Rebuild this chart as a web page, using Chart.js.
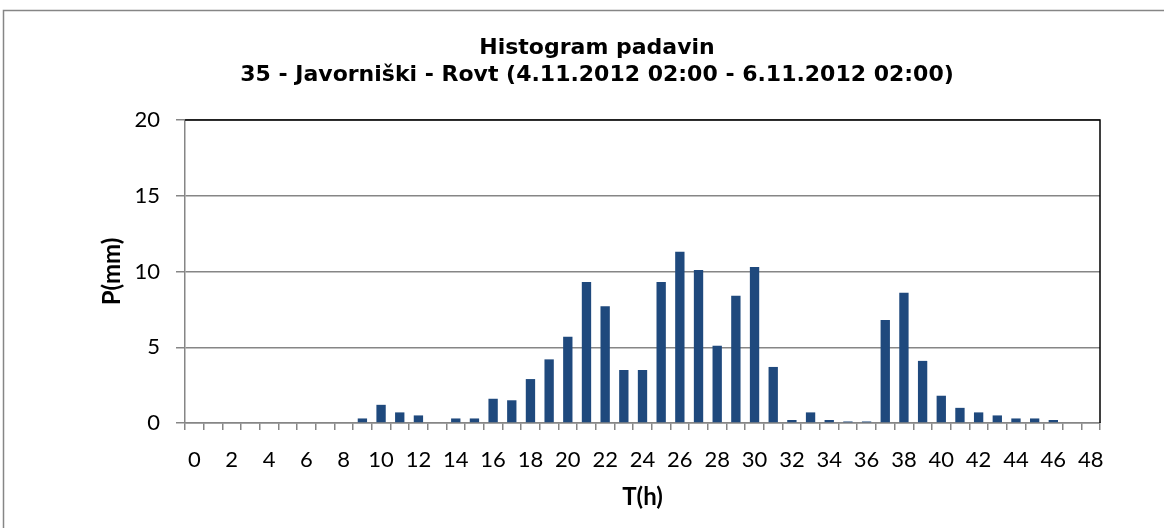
<!DOCTYPE html>
<html lang="sl">
<head>
  <meta charset="UTF-8" />
  <title>Histogram padavin</title>
  <script src="https://cdn.jsdelivr.net/npm/chart.js"></script>
  <style>
    html, body { margin: 0; padding: 0; background: #fff; }
    .wrap { position: relative; width: 1164px; height: 528px; }
  </style>
</head>
<body>
  <div class="wrap">
    <canvas id="rainChart" width="1164" height="528"></canvas>
  </div>
  <script>
    // hours since 4.11.2012 02:00
    const hours = ['0','1','2','3','4','5','6','7','8','9','10','11','12','13','14','15','16','17','18','19','20','21','22','23','24',
                   '25','26','27','28','29','30','31','32','33','34','35','36','37','38','39','40','41','42','43','44','45','46','47','48'];
    // precipitation per hour (mm)
    const rain = [0, 0, 0, 0, 0, 0, 0, 0, 0, 0.3, 1.2, 0.7, 0.5, 0, 0.3, 0.3, 1.6, 1.5, 2.9, 4.2, 5.7, 9.3, 7.7, 3.5, 3.5,
                  9.3, 11.3, 10.1, 5.1, 8.4, 10.3, 3.7, 0.2, 0.7, 0.2, 0.1, 0.1, 6.8, 8.6, 4.1, 1.8, 1.0, 0.7, 0.5, 0.3, 0.3, 0.2, 0, 0];
    const yTicks = [0, 5, 10, 15, 20];
    const titleLines = ['Histogram padavin', '35 - Javorniški - Rovt (4.11.2012 02:00 - 6.11.2012 02:00)'];

    const grey = '#868686';
    const tickFont = { family: 'Lato, "Open Sans", sans-serif', size: 22 };
    const axisTitleFont = { family: 'Lato, "Open Sans", sans-serif', size: 24, weight: 'bold' };

    // outer frame + black top/right edge of the plot area
    const framePlugin = {
      id: 'frame',
      beforeDraw(chart) {
        const c = chart.ctx;
        c.save();
        c.strokeStyle = grey;
        c.lineWidth = 1.5;
        c.beginPath();
        c.moveTo(3.5, 530);
        c.lineTo(3.5, 10.5);
        c.lineTo(1170, 10.5);
        c.stroke();
        c.restore();
      },
      afterDraw(chart) {
        const a = chart.chartArea;
        const c = chart.ctx;
        c.save();
        c.strokeStyle = '#000';
        c.lineWidth = 1.5;
        c.beginPath();
        c.moveTo(a.left, a.top);
        c.lineTo(a.right, a.top);
        c.lineTo(a.right, a.bottom);
        c.stroke();
        c.restore();
      }
    };

    new Chart(document.getElementById('rainChart'), {
      type: 'bar',
      data: {
        labels: hours,
        datasets: [{
          label: 'P(mm)',
          data: rain,
          backgroundColor: '#1F497D',
          borderWidth: 0,
          barPercentage: 1,
          categoryPercentage: 0.5
        }]
      },
      options: {
        responsive: false,
        animation: false,
        layout: { padding: { left: 94, right: 64, top: 0, bottom: 12 } },
        plugins: {
          legend: { display: false },
          tooltip: { enabled: false },
          title: {
            display: true,
            text: titleLines,
            color: '#000',
            font: { family: '"DejaVu Sans", sans-serif', size: 22, weight: 'bold', lineHeight: '27px' },
            padding: { top: 35, bottom: 31 }
          }
        },
        scales: {
          x: {
            offset: true,
            afterFit(s) { s.height = 93; },
            grid: { offset: true, drawOnChartArea: false, drawTicks: true, tickLength: 7, color: grey, lineWidth: 1.5 },
            border: { color: grey, width: 1.5 },
            ticks: {
              color: '#000',
              font: tickFont,
              autoSkip: false,
              maxRotation: 0,
              padding: 17,
              callback: (v, i) => (i % 2 === 0 ? hours[i] : '')
            },
            title: { display: true, text: 'T(h)', color: '#000', font: axisTitleFont, padding: { top: 4, bottom: 4 } }
          },
          y: {
            min: 0,
            max: 20,
            afterFit(s) { s.width = 91; },
            afterBuildTicks(s) { s.ticks = yTicks.map(v => ({ value: v })); },
            grid: { color: grey, lineWidth: 1.5, tickLength: 9 },
            border: { color: grey, width: 1.5 },
            ticks: { color: '#000', font: tickFont, padding: 16 },
            title: { display: true, text: 'P(mm)', color: '#000', font: axisTitleFont, padding: { top: 4, bottom: 4 } }
          }
        }
      },
      plugins: [framePlugin]
    });
  </script>
</body>
</html>
